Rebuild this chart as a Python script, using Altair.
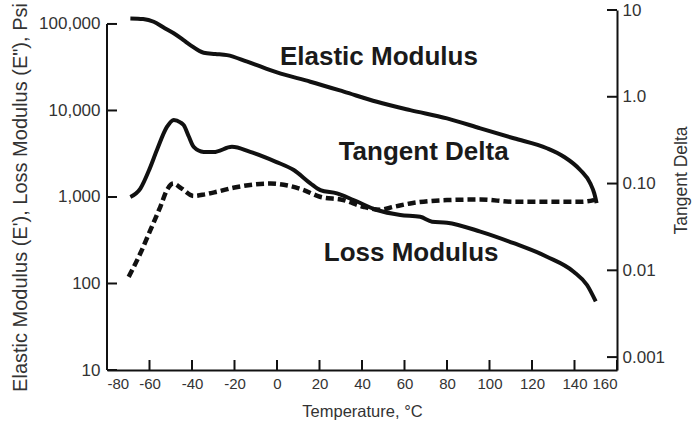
import altair as alt
import pandas as pd

# Dynamic mechanical properties vs temperature
temp_elastic = [-69, -63, -58, -53, -48.6, -44, -40.8, -34.5, -29, -23.5, -14, 0, 15.7,
                31.4, 47, 62.7, 80, 95.7, 111.4, 127, 135, 142.7, 147.4, 149.3, 150.4]
elastic_psi = [116000, 114000, 106000, 90000, 78000, 65000, 57000, 46500, 45000, 43600,
               36700, 27500, 21500, 16500, 12600, 10100, 8100, 6220, 4770, 3660, 2920,
               2050, 1440, 1100, 850]

temp_loss = [-69, -64.3, -60, -56.5, -51.8, -48.6, -45.5, -43.9, -41.5, -39.2, -34.5, -29.8,
             -21.2, -12.6, -0.5, 7.9, 15.7, 20.4, 28.2, 36, 47, 58, 67.4, 73, 80, 95.7,
             111.4, 127, 139.6, 145.9, 150]
loss_psi = [1000, 1250, 2100, 3490, 6450, 7770, 7300, 6760, 5000, 3800, 3320, 3300,
            3800, 3320, 2550, 2050, 1440, 1200, 1100, 923, 707, 620, 590, 518, 505, 398,
            292, 204, 137, 96, 62]

temp_tan = [-69.8, -64.3, -59.6, -54.9, -51.8, -48.8, -45, -39.3, -34, -28.2, -20, -10,
            -3, 5, 12, 20.2, 31.2, 40.6, 48.5, 55, 62.7, 80, 95.7, 111.4, 127, 142.7,
            149, 150.4]
tan_delta = [0.0084, 0.0157, 0.029, 0.054, 0.084, 0.100, 0.088, 0.072, 0.075, 0.0805,
             0.09, 0.098, 0.1, 0.095, 0.085, 0.0705, 0.0645, 0.054, 0.050, 0.054, 0.059,
             0.0645, 0.0655, 0.0617, 0.0617, 0.0617, 0.0645, 0.072]

x_ticks = [-80, -60, -40, -20, 0, 20, 40, 60, 80, 100, 120, 140, 160]
left_ticks = [10, 100, 1000, 10000, 100000]
right_ticks = [0.001, 0.01, 0.1, 1, 10]
right_tick_labels = ["0.001", "0.01", "0.10", "1.0", "10"]

label_names = ["Elastic Modulus", "Tangent Delta", "Loss Modulus"]
label_temp = [1.4, 29.0, 22.0]
label_psi = [33600, 2680, 184]

X_DOMAIN = [-80, 160]
LEFT_DOMAIN = [10, 145000]
RIGHT_DOMAIN = [0.00071, 10]

PLOT_W = 510
PLOT_H = 360
FONT = "Liberation Sans"
INK = "#111111"
TEXT = "#333333"
TICK_LEN = 10

x_scale = alt.Scale(domain=X_DOMAIN, nice=False, zero=False)
left_scale = alt.Scale(type="log", domain=LEFT_DOMAIN, nice=False)
right_scale = alt.Scale(type="log", domain=RIGHT_DOMAIN, nice=False)

# axes carry labels and titles; the short inward ticks are drawn as rule layers
x_label_axis = alt.Axis(
    orient="bottom", values=x_ticks, labelExpr="'' + datum.value", ticks=False,
    labelPadding=6, labelFont=FONT, labelFontSize=15, labelColor=TEXT,
    domain=True, domainWidth=2, domainColor=INK, grid=False,
    title="Temperature, °C", titleFont=FONT, titleFontSize=16.5,
    titleFontWeight="normal", titleColor=TEXT, titleBaseline="alphabetic", titleY=46,
)
left_label_axis = alt.Axis(
    orient="left", values=left_ticks, format=",d", ticks=False, labelPadding=7,
    labelFont=FONT, labelFontSize=17, labelColor=TEXT, domain=False, grid=False,
    title="Elastic Modulus (E'), Loss Modulus (E\"), Psi", titleFont=FONT,
    titleFontSize=20, titleFontWeight="normal", titleColor=TEXT, titleAngle=270,
    titleX=-87, titleY=187, titleBaseline="middle", titleAlign="center",
)

right_expr = ""
for v, lab in zip(right_ticks[:-1], right_tick_labels[:-1]):
    right_expr += f"datum.value < {v * 3} ? '{lab}' : "
right_expr += f"'{right_tick_labels[-1]}'"

right_label_axis = alt.Axis(
    orient="right", values=right_ticks, labelExpr=right_expr, ticks=False,
    labelPadding=5, labelFont=FONT, labelFontSize=17, labelColor=TEXT,
    domain=True, domainWidth=2, domainColor=INK, grid=False,
    title="Tangent Delta", titleFont=FONT, titleFontSize=17.5, titleFontWeight="normal",
    titleColor=TEXT, titleAngle=270, titleX=64, titleY=170, titleBaseline="middle",
    titleAlign="center",
)

moduli = pd.concat([
    pd.DataFrame({"series": "Elastic Modulus", "temp": temp_elastic, "psi": elastic_psi}),
    pd.DataFrame({"series": "Loss Modulus", "temp": temp_loss, "psi": loss_psi}),
])
tan_df = pd.DataFrame({"temp": temp_tan, "tan": tan_delta})
labels_df = pd.DataFrame({"name": label_names, "temp": label_temp, "psi": label_psi})

moduli_lines = alt.Chart(moduli).mark_line(
    color=INK, strokeWidth=4, interpolate="monotone"
).encode(
    x=alt.X("temp:Q", scale=x_scale, axis=x_label_axis),
    y=alt.Y("psi:Q", scale=left_scale, axis=left_label_axis),
    detail="series:N",
)

# left axis line runs from the lowest to the highest labelled decade
left_line = alt.Chart(
    pd.DataFrame({"temp": [X_DOMAIN[0]], "lo": [left_ticks[0]], "hi": [left_ticks[-1]]})
).mark_rule(color=INK, strokeWidth=2).encode(
    x=alt.X("temp:Q", scale=x_scale, axis=None),
    y=alt.Y("lo:Q", scale=left_scale, axis=None),
    y2="hi:Q",
)

tick_style = dict(color=INK, strokeWidth=2)

x_tick_rules = alt.Chart(pd.DataFrame({"xt": x_ticks})).mark_rule(**tick_style).encode(
    x=alt.X("xt:Q", scale=x_scale, axis=None),
    y=alt.value(PLOT_H - TICK_LEN),
    y2=alt.value(PLOT_H),
)
left_tick_rules = alt.Chart(pd.DataFrame({"lt": left_ticks})).mark_rule(**tick_style).encode(
    y=alt.Y("lt:Q", scale=left_scale, axis=None),
    x=alt.value(0),
    x2=alt.value(TICK_LEN),
)
right_tick_rules = alt.Chart(pd.DataFrame({"rt": right_ticks})).mark_rule(**tick_style).encode(
    y=alt.Y("rt:Q", scale=right_scale, axis=None),
    x=alt.value(PLOT_W - TICK_LEN),
    x2=alt.value(PLOT_W),
)

tan_line = alt.Chart(tan_df).mark_line(
    color=INK, strokeWidth=4.5, strokeDash=[8, 4], strokeCap="butt", interpolate="monotone"
).encode(
    x=alt.X("temp:Q", scale=x_scale, axis=None),
    y=alt.Y("tan:Q", scale=right_scale, axis=right_label_axis),
)

curve_labels = alt.Chart(labels_df).mark_text(
    font=FONT, fontSize=26, fontWeight="bold", align="left", baseline="alphabetic",
    color="#1a1a1a",
).encode(
    x=alt.X("temp:Q", scale=x_scale, axis=None),
    y=alt.Y("psi:Q", scale=left_scale, axis=None),
    text="name:N",
)

chart = alt.layer(
    moduli_lines, left_line, x_tick_rules, left_tick_rules, right_tick_rules,
    tan_line, curve_labels
).resolve_scale(
    y="independent"
).resolve_axis(
    x="independent", y="independent"
).properties(
    width=PLOT_W,
    height=PLOT_H,
    autosize=alt.AutoSizeParams(type="none"),
    padding={"left": 107, "top": 10, "right": 75, "bottom": 57},
    background="white",
).configure_view(stroke=None)

chart.save("out.html", embed_options={"renderer": "svg", "actions": False})
